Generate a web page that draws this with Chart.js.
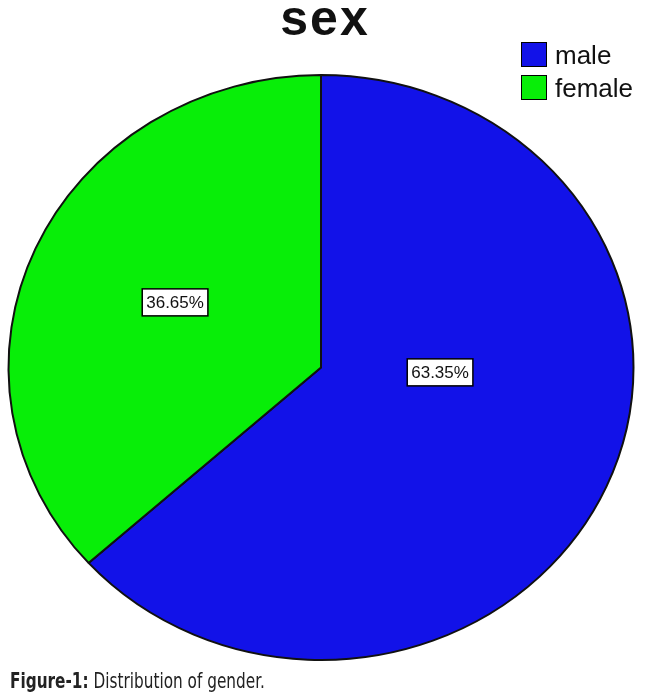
<!DOCTYPE html>
<html>
<head>
<meta charset="utf-8">
<script src="https://cdn.jsdelivr.net/npm/chart.js@4/dist/chart.umd.min.js"></script>
<style>
  body { margin: 0; background: #fff; }
  #wrap { position: relative; width: 650px; height: 698px; overflow: hidden; }
  #pie { position: absolute; left: 0; top: 0; }
  #title { position: absolute; left: 240px; width: 170px; top: -11px; text-align: center;
    font: bold 50px "Liberation Sans", Arial, sans-serif; letter-spacing: 2px; color: #111; }
  .leg { position: absolute; left: 521px; font: 26px "Liberation Sans", Arial, sans-serif; color: #111; line-height: 26px; }
  .leg span { display: inline-block; width: 24px; height: 23px; border: 1.5px solid #000; vertical-align: top; margin-right: 8px; }
  #cap { position: absolute; left: 10px; top: 669px; white-space: nowrap; transform: scaleX(0.81); transform-origin: 0 0;
    font: 21px "DejaVu Sans Condensed", "Liberation Sans", sans-serif; color: #222; }
</style>
</head>
<body>
<div id="wrap">
  <canvas id="pie" width="650" height="698"></canvas>
  <div id="title">sex</div>
  <div id="legend"></div>
  <div id="cap"><b>Figure-1:</b> Distribution of gender.</div>
</div>
<script>
const categories = ['male', 'female'];
const percents = [63.35, 36.65];
const colores = ['rgb(18,18,232)', 'rgb(8,238,8)'];

// leyenda html
const legend = document.getElementById('legend');
categories.forEach((c, i) => {
  const d = document.createElement('div');
  d.className = 'leg';
  d.style.top = (42 + i * 33) + 'px';
  d.innerHTML = `<span style="background:${colores[i]}"></span>${c}`;
  legend.appendChild(d);
});

// la torta original es un poco eliptica
const squash = 292.5 / 312.5;
const elipse = {
  id: 'elipse',
  beforeDatasetsDraw(chart) {
    const arc = chart.getDatasetMeta(0).data[0];
    const ctx = chart.ctx;
    ctx.save();
    ctx.translate(arc.x, arc.y);
    ctx.scale(1, squash);
    ctx.translate(-arc.x, -arc.y);
  },
  afterDatasetsDraw(chart) {
    chart.ctx.restore();
  }
};

// etiquetas con caja blanca
const labelPos = [[0.381, 0.014], [-0.467, -0.21]];
const etiquetas = {
  id: 'etiquetas',
  afterDraw(chart) {
    const ctx = chart.ctx;
    chart.getDatasetMeta(0).data.forEach((arc, i) => {
      const r = arc.outerRadius;
      const x = arc.x + labelPos[i][0] * r;
      const y = arc.y + labelPos[i][1] * r;
      const txt = percents[i].toFixed(2) + '%';
      ctx.font = '17px "Liberation Sans", Arial, sans-serif';
      const w = ctx.measureText(txt).width + 8;
      ctx.fillStyle = '#fff';
      ctx.fillRect(x - w / 2, y - 13, w, 27);
      ctx.strokeStyle = '#000';
      ctx.lineWidth = 1.5;
      ctx.strokeRect(x - w / 2, y - 13, w, 27);
      ctx.fillStyle = '#111';
      ctx.textAlign = 'center';
      ctx.textBaseline = 'middle';
      ctx.fillText(txt, x, y + 1);
    });
  }
};

new Chart(document.getElementById('pie').getContext('2d'), {
  type: 'pie',
  data: {
    labels: categories,
    datasets: [{
      data: percents,
      backgroundColor: colores,
      borderColor: '#111',
      borderWidth: 2
    }]
  },
  options: {
    responsive: false,
    animation: false,
    devicePixelRatio: 1,
    layout: { padding: { left: 7, right: 15, top: 54, bottom: 17 } },
    plugins: {
      legend: { display: false },
      tooltip: { enabled: false },
      title: { display: false }
    }
  },
  plugins: [elipse, etiquetas]
});
</script>
</body>
</html>
